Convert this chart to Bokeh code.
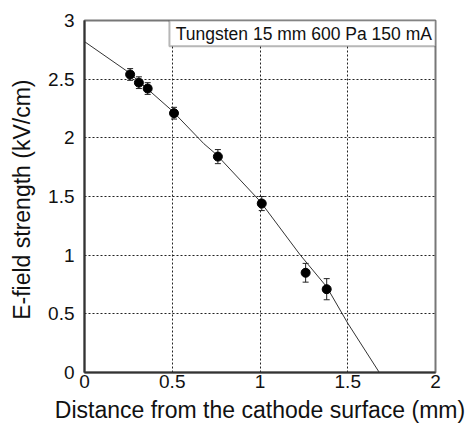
from bokeh.plotting import figure
from bokeh.models import Range1d, FixedTicker, Whisker, ColumnDataSource, BoxAnnotation, Label
from bokeh.embed import file_html
from bokeh.resources import INLINE

# data
dist_mm = [0.26, 0.31, 0.36, 0.51, 0.76, 1.01, 1.26, 1.38]
efield = [2.54, 2.47, 2.42, 2.21, 1.84, 1.44, 0.85, 0.71]
efield_err = [0.05, 0.05, 0.05, 0.05, 0.06, 0.06, 0.08, 0.09]
fit_x = [0.0, 0.25, 0.5, 0.68, 0.75, 1.0, 1.23, 1.38, 1.5, 1.68]
fit_y = [2.82, 2.56, 2.23, 1.95, 1.86, 1.46, 1.0, 0.73, 0.42, 0.0]
x_ticks = [0, 0.5, 1, 1.5, 2]
x_tick_labels = ["0", "0.5", "1", "1.5", "2"]
y_ticks = [0, 0.5, 1, 1.5, 2, 2.5, 3]
y_tick_labels = ["0", "0.5", "1", "1.5", "2", "2.5", "3"]
legend_text = "Tungsten 15 mm 600 Pa 150 mA"

FONT = "Liberation Sans"

p = figure(width=470, height=426, output_backend="svg", toolbar_location=None,
           x_range=Range1d(0, 2), y_range=Range1d(0, 3),
           min_border_left=84, min_border_right=35, min_border_top=20, min_border_bottom=54)
p.background_fill_color = "white"
p.border_fill_color = "white"
p.outline_line_color = "#777777"
p.outline_line_width = 2

p.xaxis.ticker = FixedTicker(ticks=x_ticks)
p.yaxis.ticker = FixedTicker(ticks=y_ticks)
p.xaxis.major_label_overrides = {t: l for t, l in zip(x_ticks, x_tick_labels)}
p.yaxis.major_label_overrides = {t: l for t, l in zip(y_ticks, y_tick_labels)}
for ax in (p.xaxis, p.yaxis):
    ax.major_label_text_font = FONT
    ax.major_label_text_font_size = "19px"
    ax.major_label_text_color = "#111111"
    ax.axis_label_text_font = FONT
    ax.axis_label_text_font_size = "23px"
    ax.axis_label_text_font_style = "normal"
    ax.axis_label_text_color = "#111111"
    ax.axis_line_color = "#333333"
    ax.axis_line_width = 2
    ax.major_tick_in = 0
    ax.major_tick_out = 0
    ax.minor_tick_in = 0
    ax.minor_tick_out = 0
p.xaxis.axis_label = "Distance from the cathode surface (mm)"
p.yaxis.axis_label = "E-field strength  (kV/cm)"
p.xaxis.major_label_standoff = 2
p.xaxis.axis_label_standoff = 6
p.yaxis.major_label_standoff = 10
p.yaxis.axis_label_standoff = 10

p.grid.grid_line_color = "#222222"
p.grid.grid_line_dash = "2 2"
p.grid.grid_line_width = 1

# fit curve
p.line(fit_x, fit_y, line_color="#333333", line_width=1)

src = ColumnDataSource(dict(x=dist_mm, y=efield,
                            lo=[v - e for v, e in zip(efield, efield_err)],
                            hi=[v + e for v, e in zip(efield, efield_err)]))
w = Whisker(source=src, base="x", lower="lo", upper="hi", line_color="#222222", line_width=1)
w.upper_head.size = 6
w.lower_head.size = 6
w.upper_head.line_color = "#222222"
w.lower_head.line_color = "#222222"
p.add_layout(w)
p.scatter("x", "y", source=src, size=9, fill_color="black", line_color="black")

box = BoxAnnotation(left=0.484, right=2.0, top=3.0, bottom=2.78,
                    fill_color="white", fill_alpha=1.0, line_color="#111111", line_width=2)
p.add_layout(box)
lab = Label(x=0.52, y=2.885, text=legend_text, text_font=FONT, text_font_size="17.5px",
            text_baseline="middle", text_align="left", text_color="#111111")
p.add_layout(lab)

open("out.html", "w").write(file_html(p, INLINE))
